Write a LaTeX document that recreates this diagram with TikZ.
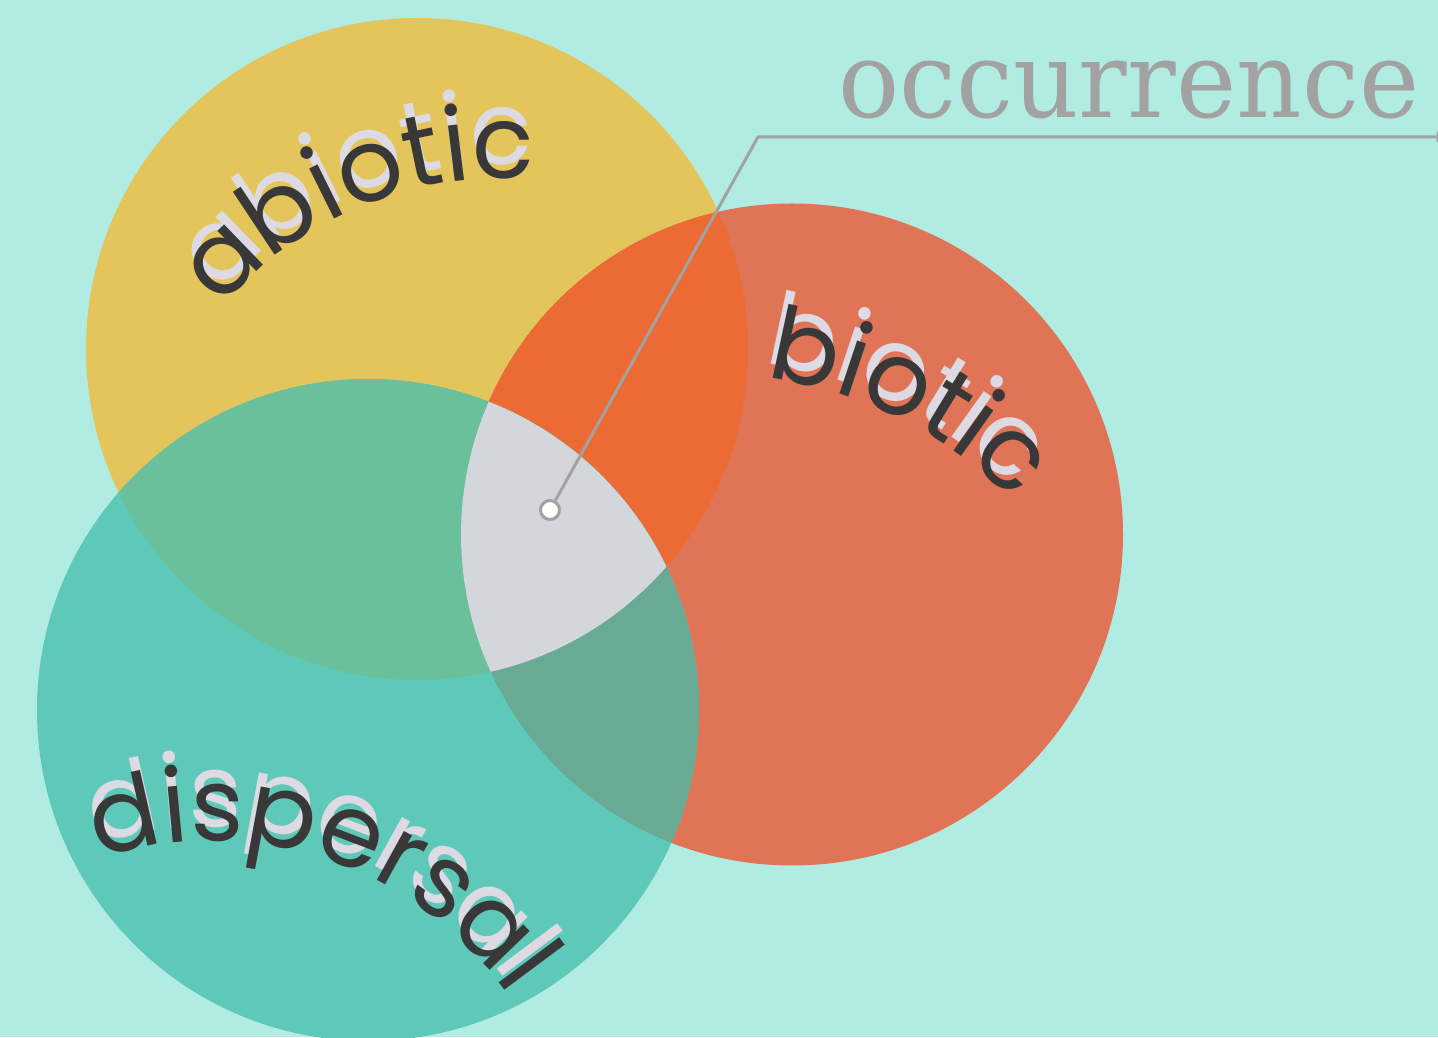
\documentclass[tikz,border=0pt]{standalone}
\usepackage{fontspec}
\usetikzlibrary{decorations.text}
\newfontfamily\labfont{Poppins}
\newfontfamily\occfont{DejaVu Serif}
\definecolor{bg}{HTML}{B0ECE2}
\definecolor{cyel}{HTML}{E4C55B}
\definecolor{cred}{HTML}{E07456}
\definecolor{cteal}{HTML}{5EC9B9}
\definecolor{cyr}{HTML}{EC6B35}
\definecolor{cyt}{HTML}{6AC09B}
\definecolor{crt}{HTML}{68AA94}
\definecolor{call}{HTML}{D3D7DB}
\definecolor{ink}{HTML}{383838}
\definecolor{shade}{HTML}{DEDAE3}
\definecolor{lgray}{HTML}{A2A2A2}
\newcommand\wordfont{\labfont\fontsize{102}{102}\selectfont}
\begin{document}
\begin{tikzpicture}[x=1pt,y=1pt,
  leader/.style={draw=lgray, line width=3pt},
  dotnode/.style={circle, draw=lgray, fill=white, line width=3pt, minimum size=19pt, inner sep=0pt},
  word/.style={decorate, decoration={text along path, text align=center, text color=#1}}]
\useasboundingbox (0,0) rectangle (1438,1037);
\clip (0,0) rectangle (1438,1037);
\fill[bg] (0,0) rectangle (1438,1037);
% circles
\fill[cyel] (417,688) circle[radius=331];
\fill[cred] (792,502.5) circle[radius=331];
\fill[cteal] (368,327) circle[radius=331];
% overlaps
\begin{scope}
  \clip (417,688) circle[radius=331];
  \fill[cyr] (792,502.5) circle[radius=331];
  \fill[cyt] (368,327) circle[radius=331];
\end{scope}
\begin{scope}
  \clip (792,502.5) circle[radius=331];
  \fill[crt] (368,327) circle[radius=331];
  \clip (417,688) circle[radius=331];
  \fill[call] (368,327) circle[radius=331];
\end{scope}
% curved labels: shadow then ink
\path[word=shade, decoration={text={|\wordfont|abiotic}}]
  (504,496) ++(162.5:377) arc[start angle=162.5, end angle=62.5, radius=377];
\path[word=ink, decoration={text={|\wordfont|abiotic}}]
  (506,482) ++(162.5:377) arc[start angle=162.5, end angle=62.5, radius=377];
\path[word=shade, decoration={text={|\wordfont|biotic}}]
  (708,251) ++(103.5:426) arc[start angle=103.5, end angle=23.5, radius=426];
\path[word=ink, decoration={text={|\wordfont|biotic}}]
  (710,237) ++(103.5:426) arc[start angle=103.5, end angle=23.5, radius=426];
\path[word=shade, decoration={text={|\wordfont|dispersal}}]
  (210,-152) ++(131.5:362) arc[start angle=131.5, end angle=11.5, radius=362];
\path[word=ink, decoration={text={|\wordfont|dispersal}}]
  (212,-166) ++(131.5:362) arc[start angle=131.5, end angle=11.5, radius=362];
% occurrence label and leader
\node[anchor=base west, inner sep=0pt, text=lgray] (occ) at (838,919)
  {\occfont\fontsize{106}{106}\selectfont\scalebox{0.96}[1]{occurrence}};
\node[dotnode] (dot) at (550,527) {};
\coordinate (bend) at (758,900);
\node[dotnode, fill=bg] (tip) at (1447,900) {};
\draw[leader] (dot) -- (bend) -- (tip);
\end{tikzpicture}
\end{document}
